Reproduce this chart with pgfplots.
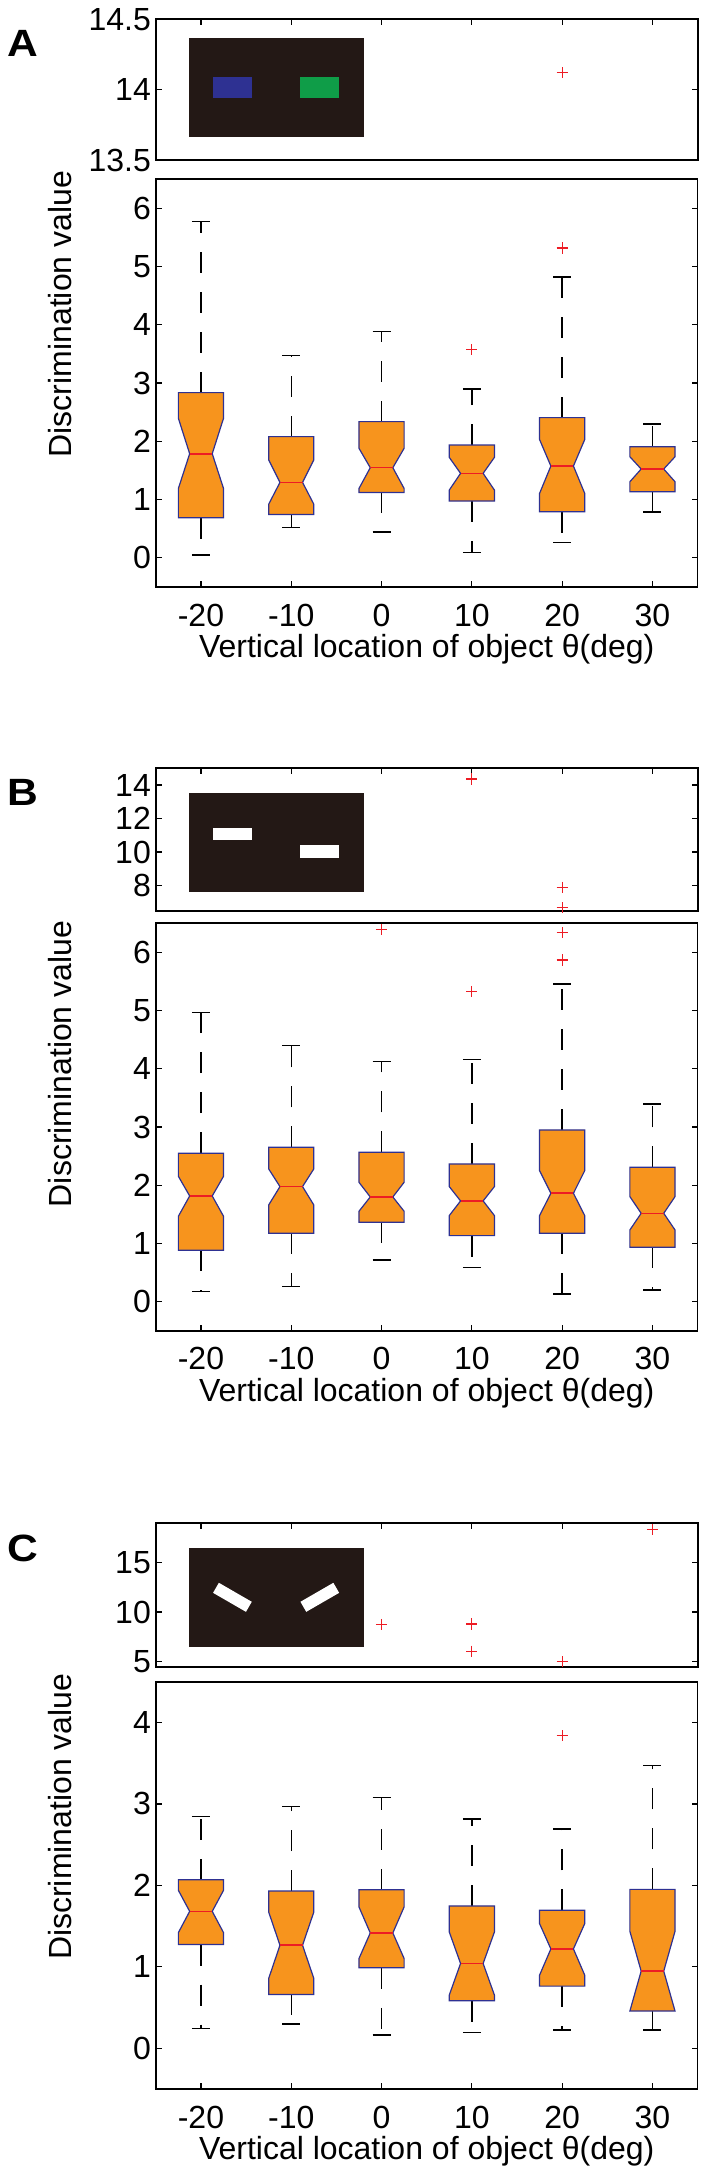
\documentclass[border=0pt]{standalone}
\usepackage{fontspec}
\setmainfont{Liberation Sans}
\usepackage{pgfplots}
\pgfplotsset{compat=1.18}
\definecolor{boxfill}{HTML}{F7941D}
\definecolor{boxedge}{HTML}{2E3192}
\definecolor{medred}{HTML}{ED1C24}
\definecolor{insetbg}{HTML}{231815}
\definecolor{insetblue}{HTML}{2E3192}
\definecolor{insetgreen}{HTML}{0F9D48}
\newcommand{\fs}{\fontsize{16pt}{19pt}\selectfont}
\pgfplotsset{
  base/.style={scale only axis, width=270.9pt, xmin=-25, xmax=35, clip=false,
    axis line style={line width=0.9pt}, tick style={black, line width=0.6pt},
    major tick length=3pt, tick align=inside,
    every tick label/.append style={font=\fs},
    /pgf/number format/assume math mode=true,
    xtick={-20,-10,0,10,20,30}, ytick pos=both,
    yticklabel style={anchor=east, inner sep=0pt, xshift=-2.3pt}},
  topax/.style={base, xtick pos=right, xticklabels={}},
  mainax/.style={base, xtick pos=left, xticklabels={-20,-10,0,10,20,30},
    xticklabel style={anchor=north, inner sep=0pt, yshift=-8.2pt},
    xlabel={Vertical location of object θ(deg)},
    xlabel style={font=\fs, at={(axis description cs:0.5,0)}, anchor=north, inner sep=0pt, yshift=-23.5pt},
    ylabel={Discrimination value},
    ylabel style={font=\fs, anchor=south, inner sep=0pt}, ymin=-0.5},
  whisk/.style={black, line width=0.7pt, dash pattern=on 10.5pt off 9.5pt},
  outl/.style={only marks, mark=+, mark size=2.8pt, medred, line width=0.6pt},
}
% x, lower whisker, q1, notch low, median, notch high, q3, upper whisker
\newcommand{\nbox}[8]{%
  \pgfmathsetmacro\xa{#1-2.5}\pgfmathsetmacro\xb{#1+2.5}%
  \pgfmathsetmacro\xc{#1-1.25}\pgfmathsetmacro\xd{#1+1.25}%
  \pgfmathsetmacro\xe{#1-1}\pgfmathsetmacro\xf{#1+1}%
  \edef\tmp{%
    \noexpand\addplot[whisk] coordinates {(#1,#7) (#1,#8)};
    \noexpand\addplot[whisk] coordinates {(#1,#3) (#1,#2)};
    \noexpand\addplot[black, line width=0.7pt] coordinates {(\xe,#8) (\xf,#8)};
    \noexpand\addplot[black, line width=0.7pt] coordinates {(\xe,#2) (\xf,#2)};
    \noexpand\addplot[fill=boxfill, draw=boxedge, line width=0.6pt] coordinates {(\xa,#3) (\xb,#3) (\xb,#4) (\xd,#5) (\xb,#6) (\xb,#7) (\xa,#7) (\xa,#6) (\xc,#5) (\xa,#4)} -- cycle;
    \noexpand\addplot[medred, line width=0.8pt] coordinates {(\xc,#5) (\xd,#5)};
  }\tmp}
\newcommand{\panellabel}[2]{\node[anchor=north west, inner sep=0pt, font=\fontsize{19pt}{22pt}\selectfont\bfseries] at #1 {\scalebox{1.12}[1]{#2}};}
\begin{document}
\begin{tikzpicture}
\path[use as bounding box] (0,0) rectangle (354pt,-1088.5pt);
% ---------------- Panel A ----------------
\panellabel{(3.5pt,-15pt)}{A}
\begin{axis}[topax, at={(77.9pt,-9.65pt)}, anchor=north west, height=70.35pt,
  ymin=13.5, ymax=14.5, ytick={13.5,14,14.5}]
  \fill[insetbg] (rel axis cs:0.0607,0.1656) rectangle (rel axis cs:0.3834,0.865);
  \fill[insetblue] (rel axis cs:0.1058,0.4428) rectangle (rel axis cs:0.1776,0.5878);
  \fill[insetgreen] (rel axis cs:0.2667,0.4428) rectangle (rel axis cs:0.3383,0.5878);
  \addplot[outl] coordinates {(20,14.12)};
\end{axis}
\begin{axis}[mainax, at={(77.9pt,-89.5pt)}, anchor=north west, height=204pt,
  ymax=6.5, ytick={0,1,2,3,4,5,6},
  ylabel style={at={(axis description cs:-0.1552,0.669)}}]
  \nbox{-20}{0.046}{0.687}{1.19}{1.787}{2.395}{2.835}{5.77}
  \nbox{-10}{0.516}{0.745}{0.92}{1.295}{1.68}{2.08}{3.47}
  \nbox{0}{0.447}{1.123}{1.19}{1.547}{1.88}{2.337}{3.88}
  \nbox{10}{0.092}{0.974}{1.163}{1.45}{1.724}{1.936}{2.90}
  \nbox{20}{0.26}{0.79}{1.106}{1.575}{2.03}{2.406}{4.82}
  \nbox{30}{0.79}{1.134}{1.306}{1.524}{1.735}{1.907}{2.297}
  \addplot[outl] coordinates {(10,3.57) (20,5.316)};
\end{axis}
% ---------------- Panel B ----------------
\panellabel{(3.5pt,-389.5pt)}{B}
\begin{axis}[topax, at={(77.9pt,-384.15pt)}, anchor=north west, height=71.2pt,
  ymin=6.5, ymax=15, ytick={8,10,12,14}]
  \fill[insetbg] (rel axis cs:0.0607,0.1334) rectangle (rel axis cs:0.3834,0.8244);
  \fill[white] (rel axis cs:0.1058,0.4965) rectangle (rel axis cs:0.1776,0.5829);
  \fill[white] (rel axis cs:0.2667,0.3722) rectangle (rel axis cs:0.3383,0.4614);
  \addplot[outl] coordinates {(10,14.36) (20,7.9) (20,6.67)};
\end{axis}
\begin{axis}[mainax, at={(77.9pt,-461.65pt)}, anchor=north west, height=203.7pt,
  ymax=6.5, ytick={0,1,2,3,4,5,6},
  ylabel style={at={(axis description cs:-0.1552,0.6547)}}]
  \nbox{-20}{0.172}{0.882}{1.466}{1.815}{2.153}{2.549}{4.966}
  \nbox{-10}{0.264}{1.174}{1.66}{1.976}{2.28}{2.652}{4.40}
  \nbox{0}{0.716}{1.363}{1.552}{1.798}{2.05}{2.566}{4.13}
  \nbox{10}{0.59}{1.134}{1.478}{1.73}{1.976}{2.365}{4.158}
  \nbox{20}{0.132}{1.174}{1.478}{1.861}{2.25}{2.95}{5.458}
  \nbox{30}{0.2}{0.934}{1.231}{1.517}{1.804}{2.308}{3.396}
  \addplot[outl] coordinates {(0,6.39) (10,5.33) (20,6.34) (20,5.87)};
\end{axis}
% ---------------- Panel C ----------------
\panellabel{(3.5pt,-767.5pt)}{C}
\begin{axis}[topax, at={(77.9pt,-761.35pt)}, anchor=north west, height=72pt,
  ymin=4.5, ymax=19, ytick={5,10,15}]
  \fill[insetbg] (rel axis cs:0.0607,0.1389) rectangle (rel axis cs:0.3834,0.8222);
  \node[fill=white, inner sep=0pt, minimum width=19pt, minimum height=5.8pt, rotate=-30] at (rel axis cs:0.1414,0.482) {};
  \node[fill=white, inner sep=0pt, minimum width=19pt, minimum height=5.8pt, rotate=30] at (rel axis cs:0.3027,0.482) {};
  \addplot[outl] coordinates {(0,8.76) (10,8.8) (10,6.07) (20,5.0) (30,18.3)};
\end{axis}
\begin{axis}[mainax, at={(77.9pt,-840.85pt)}, anchor=north west, height=203.65pt,
  ymax=4.5, ytick={0,1,2,3,4},
  ylabel style={at={(axis description cs:-0.1552,0.6685)}}]
  \nbox{-20}{0.245}{1.273}{1.42}{1.681}{1.939}{2.069}{2.845}
  \nbox{-10}{0.298}{0.661}{0.857}{1.265}{1.673}{1.93}{2.967}
  \nbox{0}{0.163}{0.988}{1.102}{1.416}{1.735}{1.947}{3.082}
  \nbox{10}{0.192}{0.584}{0.653}{1.041}{1.428}{1.747}{2.816}
  \nbox{20}{0.224}{0.763}{0.898}{1.22}{1.53}{1.694}{2.694}
  \nbox{30}{0.224}{0.457}{0.457}{0.947}{1.436}{1.951}{3.473}
  \addplot[outl] coordinates {(20,3.836)};
\end{axis}
\end{tikzpicture}
\end{document}
